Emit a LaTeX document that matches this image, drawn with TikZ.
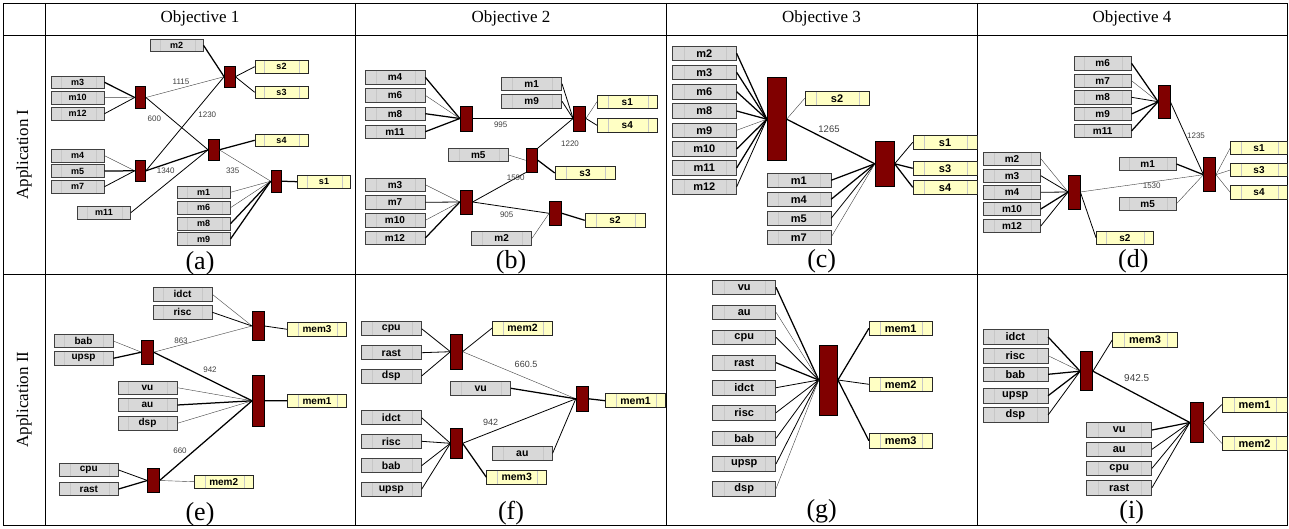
\documentclass[tikz,border=0pt]{standalone}
\usepackage{fontspec}
\setmainfont{Liberation Serif}
\newfontfamily\boxfont{Liberation Sans}
\usepackage{tikz}
\usetikzlibrary{calc}

\definecolor{barred}{RGB}{128,0,0}
\definecolor{sfill}{RGB}{255,255,196}
\definecolor{mfill}{RGB}{216,216,216}

\tikzset{
  box/.style={draw=black!75, line width=0.6pt, inner sep=0pt,
    minimum width=56pt, minimum height=13pt,
    font=\boxfont\bfseries\fontsize{10}{10}\selectfont,
    path picture={\draw[black!22, line width=0.4pt]
      ($(path picture bounding box.south west)!0.18!(path picture bounding box.south east)$) --
      ($(path picture bounding box.north west)!0.18!(path picture bounding box.north east)$)
      ($(path picture bounding box.south west)!0.84!(path picture bounding box.south east)$) --
      ($(path picture bounding box.north west)!0.84!(path picture bounding box.north east)$);}},
  mbox/.style={box, fill=mfill},
  sbox/.style={box, fill=sfill, draw=black!85},
  boxsz/.style n args={3}{
    mbox/.append style={minimum width=#1, minimum height=#2, font=\boxfont\bfseries\fontsize{#3}{#3}\selectfont},
    sbox/.append style={minimum width=#1, minimum height=#2, font=\boxfont\bfseries\fontsize{#3}{#3}\selectfont}},
  bar/.style 2 args={draw=black, fill=barred, line width=0.5pt, inner sep=0pt,
    minimum width=#1pt, minimum height=#2pt},
  wlite/.style={line width=0.4pt, black!75},
  wnorm/.style={line width=0.8pt, black},
  wbold/.style={line width=1.25pt, black},
  elab/.style={font=\boxfont\fontsize{8}{8}\selectfont, text=black!75, inner sep=0pt},
  plab/.style={font=\fontsize{26}{26}\selectfont, inner sep=0pt},
  hd/.style={font=\fontsize{17}{17}\selectfont, inner sep=0pt},
  grid/.style={line width=0.9pt, black}
}

\begin{document}
\begin{tikzpicture}[x=1pt, y=-1pt]
\useasboundingbox (0,0) rectangle (1289,529);

% table frame
\draw[grid] (3,3) rectangle (1287,525);
\draw[grid] (3,35) -- (1287,35);
\draw[grid] (3,274) -- (1287,274);
\draw[grid] (45,3) -- (45,525);
\draw[grid] (355,3) -- (355,525);
\draw[grid] (666,3) -- (666,525);
\draw[grid] (977,3) -- (977,525);

\node[hd] (hd1) at (200,18) {Objective 1};
\node[hd] (hd2) at (511,18) {Objective 2};
\node[hd] (hd3) at (821.5,18) {Objective 3};
\node[hd] (hd4) at (1132,18) {Objective 4};
\node[hd, rotate=90] (app1) at (24,154.5) {Application I};
\node[hd, rotate=90] (app2) at (24,399.5) {Application II};

% (a)
\begin{scope}[boxsz={53pt}{12.5pt}{9}]
\node[mbox] (a-m2) at (176.7,45.3) {m2};
\node[sbox] (a-s2) at (281.5,66.7) {s2};
\node[sbox] (a-s3) at (281.5,92.3) {s3};
\node[mbox] (a-m3) at (77.7,82.3) {m3};
\node[mbox] (a-m10) at (77.7,97.7) {m10};
\node[mbox] (a-m12) at (77.7,113.7) {m12};
\node[bar={10.7}{21.7}] (a-b1) at (140.3,97.5) {};
\node[bar={10.7}{21.7}] (a-b2) at (229.7,76.7) {};
\node[sbox] (a-s4) at (281.5,140.3) {s4};
\node[bar={10.7}{21.7}] (a-b3) at (213.7,149.8) {};
\node[mbox] (a-m4) at (77.7,155.7) {m4};
\node[mbox] (a-m5) at (77.7,171) {m5};
\node[mbox] (a-m7) at (77.7,186.7) {m7};
\node[bar={10.7}{21.7}] (a-b4) at (140.3,170.8) {};
\node[bar={10.7}{21.7}] (a-b5) at (276.3,181.2) {};
\node[sbox] (a-s1) at (324,181.7) {s1};
\node[mbox] (a-m11) at (104,212.7) {m11};
\node[mbox] (a-m1) at (203.7,192.3) {m1};
\node[mbox] (a-m6) at (203.7,207.7) {m6};
\node[mbox] (a-m8) at (203.7,223.7) {m8};
\node[mbox] (a-m9) at (203.7,239) {m9};

\draw[wbold] (a-m2.east) -- (a-b2.west);
\draw[wnorm] (a-b2.east) -- (a-s2.west);
\draw[wnorm] (a-b2.east) -- (a-s3.west);
\draw[wbold] (a-m3.east) -- (a-b1.west);
\draw[wlite] (a-m10.east) -- (a-b1.west);
\draw[wnorm] (a-m12.east) -- (a-b1.west);
\draw[wlite] (a-b1.east) -- (a-b2.west);
\draw[wnorm] (a-b1.east) -- (a-b3.west);
\draw[wnorm] (a-b4.east) -- (a-b2.west);
\draw[wbold] (a-b4.east) -- (a-b3.west);
\draw[wlite] (a-m4.east) -- (a-b4.west);
\draw[wbold] (a-m5.east) -- (a-b4.west);
\draw[wnorm] (a-m7.east) -- (a-b4.west);
\draw[wnorm] (a-m11.east) -- (a-b3.west);
\draw[wbold] (a-b3.east) -- (a-s4.west);
\draw[wlite] (a-b3.east) -- (a-b5.west);
\draw[wbold] (a-b5.east) -- (a-s1.west);
\draw[wlite] (a-m1.east) -- (a-b5.west);
\draw[wlite] (a-m6.east) -- (a-b5.west);
\draw[wbold] (a-m8.east) -- (a-b5.west);
\draw[wbold] (a-m9.east) -- (a-b5.west);

\node[elab] (a-l1) at (181,82) {1115};
\node[elab] (a-l2) at (154.3,119) {600};
\node[elab] (a-l3) at (207.3,114.3) {1230};
\node[elab] (a-l4) at (165.7,171) {1340};
\node[elab] (a-l5) at (232.7,170.7) {335};
\node[plab] (a-cap) at (200,263) {(a)};
\end{scope}

% (b)
\begin{scope}[boxsz={60pt}{13.5pt}{10}]
\node[mbox] (b-m4) at (395,77.3) {m4};
\node[mbox] (b-m6) at (395,95.3) {m6};
\node[mbox] (b-m8) at (395,113.7) {m8};
\node[mbox] (b-m11) at (395,131.7) {m11};
\node[bar={12.3}{25}] (b-b1) at (466.2,118.5) {};
\node[mbox] (b-m1) at (531.7,83.7) {m1};
\node[mbox] (b-m9) at (531.7,101.3) {m9};
\node[bar={12.3}{25}] (b-b2) at (579.5,118.5) {};
\node[sbox] (b-s1) at (627.3,101.7) {s1};
\node[sbox] (b-s4) at (627.3,125.3) {s4};
\node[mbox] (b-m5) at (478.3,155) {m5};
\node[bar={11.7}{24}] (b-b3) at (531.8,160.3) {};
\node[sbox] (b-s3) at (585,173) {s3};
\node[mbox] (b-m3) at (395,184.7) {m3};
\node[mbox] (b-m7) at (395,202.3) {m7};
\node[mbox] (b-m10) at (395,220.3) {m10};
\node[mbox] (b-m12) at (395,238) {m12};
\node[bar={12.3}{24}] (b-b4) at (466.2,202) {};
\node[bar={12.3}{24.7}] (b-b5) at (555.5,213.3) {};
\node[sbox] (b-s2) at (615,220.3) {s2};
\node[mbox] (b-m2) at (501.7,238.3) {m2};

\draw[wbold] (b-m4.east) -- (b-b1.west);
\draw[wlite] (b-m6.east) -- (b-b1.west);
\draw[wbold] (b-m8.east) -- (b-b1.west);
\draw[wbold] (b-m11.east) -- (b-b1.west);
\draw[wbold] (b-b1.east) -- (b-b2.west);
\draw[wnorm] (b-m1.east) -- (b-b2.west);
\draw[wnorm] (b-m9.east) -- (b-b2.west);
\draw[wlite] (b-b2.east) -- (b-s1.west);
\draw[wnorm] (b-b2.east) -- (b-s4.west);
\draw[wnorm] (b-b3.north east) -- (b-b2.west);
\draw[wlite] (b-m5.east) -- (b-b3.west);
\draw[wbold] (b-b3.east) -- (b-s3.west);
\draw[wnorm] (b-b4.east) -- (b-b3.south west);
\draw[wlite] (b-m3.east) -- (b-b4.west);
\draw[wnorm] (b-m7.east) -- (b-b4.west);
\draw[wlite] (b-m10.east) -- (b-b4.west);
\draw[wbold] (b-m12.east) -- (b-b4.west);
\draw[wnorm] (b-b4.east) -- (b-b5.west);
\draw[wbold] (b-b5.east) -- (b-s2.west);
\draw[wlite] (b-m2.east) -- (b-b5.west);

\node[elab] (b-l1) at (500.7,125) {995};
\node[elab] (b-l2) at (570,143.3) {1220};
\node[elab] (b-l3) at (515.7,177.7) {1590};
\node[elab] (b-l4) at (506.7,215) {905};
\node[plab] (b-cap) at (511,262.7) {(b)};
\end{scope}

% (c)
\begin{scope}[boxsz={64pt}{14.5pt}{11}, elab/.append style={font=\boxfont\fontsize{9.5}{9.5}\selectfont}]
\node[mbox] (c-m2) at (704.3,53.3) {m2};
\node[mbox] (c-m3) at (704.3,72.3) {m3};
\node[mbox] (c-m6) at (704.3,91.7) {m6};
\node[mbox] (c-m8) at (704.3,111) {m8};
\node[mbox] (c-m9) at (704.3,130.3) {m9};
\node[mbox] (c-m10) at (704.3,149) {m10};
\node[mbox] (c-m11) at (704.3,168) {m11};
\node[mbox] (c-m12) at (704.3,187) {m12};
\node[bar={19.3}{83}] (c-b1) at (776.7,119.2) {};
\node[sbox] (c-s2) at (837,98.3) {s2};
\node[bar={19.3}{45.7}] (c-b2) at (884.7,163.8) {};
\node[sbox] (c-s1) at (945,142.3) {s1};
\node[sbox] (c-s3) at (945,168.3) {s3};
\node[sbox] (c-s4) at (945,187.3) {s4};
\node[mbox] (c-m1) at (798.8,180.3) {m1};
\node[mbox] (c-m4) at (798.8,199.3) {m4};
\node[mbox] (c-m5) at (798.8,218.3) {m5};
\node[mbox] (c-m7) at (798.8,237.3) {m7};

\draw[wbold] (c-m2.east) -- (c-b1.west);
\draw[wbold] (c-m3.east) -- (c-b1.west);
\draw[wbold] (c-m6.east) -- (c-b1.west);
\draw[wbold] (c-m8.east) -- (c-b1.west);
\draw[wlite] (c-m9.east) -- (c-b1.west);
\draw[wbold] (c-m10.east) -- (c-b1.west);
\draw[wbold] (c-m11.east) -- (c-b1.west);
\draw[wnorm] (c-m12.east) -- (c-b1.west);
\draw[wlite] (c-b1.east) -- (c-s2.west);
\draw[wbold] (c-b1.east) -- (c-b2.west);
\draw[wbold] (c-m1.east) -- (c-b2.west);
\draw[wbold] (c-m4.east) -- (c-b2.west);
\draw[wnorm] (c-m5.east) -- (c-b2.west);
\draw[wlite] (c-m7.east) -- (c-b2.west);
\draw[wnorm] (c-b2.east) -- (c-s1.west);
\draw[wbold] (c-b2.east) -- (c-s3.west);
\draw[wbold] (c-b2.east) -- (c-s4.west);

\node[elab] (c-l1) at (829,129.3) {1265};
\node[plab] (c-cap) at (821.7,261.7) {(c)};
\end{scope}

% (d)
\begin{scope}[boxsz={57pt}{13.5pt}{10}]
\node[mbox] (d-m6) at (1102.7,63.3) {m6};
\node[mbox] (d-m7) at (1102.7,80.7) {m7};
\node[mbox] (d-m8) at (1102.7,97.3) {m8};
\node[mbox] (d-m9) at (1102.7,114) {m9};
\node[mbox] (d-m11) at (1102.7,131) {m11};
\node[bar={11.7}{33.3}] (d-b1) at (1164.2,101.7) {};
\node[sbox] (d-s1) at (1259,148) {s1};
\node[sbox] (d-s3) at (1259,170) {s3};
\node[sbox] (d-s4) at (1259,192.3) {s4};
\node[mbox] (d-m2) at (1012,158.7) {m2};
\node[mbox] (d-m3) at (1012,175.7) {m3};
\node[mbox] (d-m4) at (1012,192.3) {m4};
\node[mbox] (d-m10) at (1012,209) {m10};
\node[mbox] (d-m12) at (1012,226) {m12};
\node[bar={11.7}{34}] (d-b2) at (1074.2,192) {};
\node[mbox] (d-m1) at (1147.7,164) {m1};
\node[mbox] (d-m5) at (1147.7,203.7) {m5};
\node[bar={12}{34}] (d-b3) at (1209.7,174.7) {};
\node[sbox] (d-s2) at (1124.8,237.7) {s2};

\draw[wbold] (d-m6.east) -- (d-b1.west);
\draw[wlite] (d-m7.east) -- (d-b1.west);
\draw[wnorm] (d-m8.east) -- (d-b1.west);
\draw[wbold] (d-m9.east) -- (d-b1.west);
\draw[wbold] (d-m11.east) -- (d-b1.west);
\draw[wnorm] (d-b1.east) -- (d-b3.west);
\draw[wlite] (d-m2.east) -- (d-b2.west);
\draw[wnorm] (d-m3.east) -- (d-b2.west);
\draw[wnorm] (d-m4.east) -- (d-b2.west);
\draw[wbold] (d-m10.east) -- (d-b2.west);
\draw[wnorm] (d-m12.east) -- (d-b2.west);
\draw[wlite] (d-b2.east) -- (d-b3.west);
\draw[wnorm] (d-b2.east) -- (d-s2.west);
\draw[wbold] (d-m1.east) -- (d-b3.west);
\draw[wlite] (d-m5.east) -- (d-b3.west);
\draw[wlite] (d-b3.east) -- (d-s1.west);
\draw[wlite] (d-b3.east) -- (d-s3.west);
\draw[wlite] (d-b3.east) -- (d-s4.west);

\node[elab] (d-l1) at (1196,135.7) {1235};
\node[elab] (d-l2) at (1151.7,185.7) {1530};
\node[plab] (d-cap) at (1133.3,261) {(d)};
\end{scope}

% (e)
\begin{scope}[boxsz={59pt}{13.3pt}{10}]
\node[mbox] (e-idct) at (182.5,294.3) {idct};
\node[mbox] (e-risc) at (182.5,312.3) {risc};
\node[bar={12}{28.7}] (e-b1) at (258.3,326) {};
\node[sbox] (e-mem3) at (317,329.3) {mem3};
\node[mbox] (e-bab) at (83.5,341) {bab};
\node[mbox] (e-upsp) at (83.5,358.3) {upsp};
\node[bar={11.7}{24.3}] (e-b2) at (147.5,352.2) {};
\node[bar={12}{51.7}] (e-b3) at (258.3,400.8) {};
\node[sbox] (e-mem1) at (317,400.7) {mem1};
\node[mbox] (e-vu) at (147.5,387.7) {vu};
\node[mbox] (e-au) at (147.5,405) {au};
\node[mbox] (e-dsp) at (147.5,423.3) {dsp};
\node[mbox] (e-cpu) at (88.8,470) {cpu};
\node[mbox] (e-rast) at (88.8,489) {rast};
\node[bar={11.7}{24.3}] (e-b4) at (153.5,480.5) {};
\node[sbox] (e-mem2) at (223.7,481.7) {mem2};

\draw[wlite] (e-idct.east) -- (e-b1.west);
\draw[wnorm] (e-risc.east) -- (e-b1.west);
\draw[wnorm] (e-b1.east) -- (e-mem3.west);
\draw[wlite] (e-bab.east) -- (e-b2.west);
\draw[wbold] (e-upsp.east) -- (e-b2.west);
\draw[wlite] (e-b2.east) -- (e-b1.west);
\draw[wbold] (e-b2.east) -- (e-b3.west);
\draw[wlite] (e-vu.east) -- (e-b3.west);
\draw[wbold] (e-au.east) -- (e-b3.west);
\draw[wlite] (e-dsp.east) -- (e-b3.west);
\draw[wbold] (e-b3.east) -- (e-mem1.west);
\draw[wnorm] (e-cpu.east) -- (e-b4.west);
\draw[wbold] (e-rast.east) -- (e-b4.west);
\draw[wbold] (e-b4.east) -- (e-b3.west);
\draw[wlite] (e-b4.east) -- (e-mem2.west);

\node[elab] (e-l1) at (181,340.7) {863};
\node[elab] (e-l2) at (210,370) {942};
\node[elab] (e-l3) at (180,451) {660};
\node[plab] (e-cap) at (200,514) {(e)};
\end{scope}

% (f)
\begin{scope}[boxsz={60pt}{14pt}{10.5}, elab/.append style={font=\boxfont\fontsize{9}{9}\selectfont}]
\node[mbox] (f-cpu) at (391.3,328.7) {cpu};
\node[mbox] (f-rast) at (391.3,352.7) {rast};
\node[mbox] (f-dsp) at (391.3,376) {dsp};
\node[bar={11.7}{35.3}] (f-b1) at (456.5,351.7) {};
\node[sbox] (f-mem2) at (522.5,328) {mem2};
\node[mbox] (f-vu) at (480.7,388.3) {vu};
\node[bar={12.3}{24.3}] (f-b2) at (582.2,398.8) {};
\node[sbox] (f-mem1) at (635.5,400.7) {mem1};
\node[mbox] (f-idct) at (391.3,417.7) {idct};
\node[mbox] (f-risc) at (391.3,441.3) {risc};
\node[mbox] (f-bab) at (391.3,465.7) {bab};
\node[mbox] (f-upsp) at (391.3,489.3) {upsp};
\node[bar={11.7}{30}] (f-b3) at (456.5,443.3) {};
\node[mbox] (f-au) at (522.3,453.3) {au};
\node[sbox] (f-mem3) at (516.7,477.3) {mem3};

\draw[wnorm] (f-cpu.east) -- (f-b1.west);
\draw[wnorm] (f-rast.east) -- (f-b1.west);
\draw[wnorm] (f-dsp.east) -- (f-b1.west);
\draw[wnorm] (f-b1.east) -- (f-mem2.west);
\draw[wlite] (f-b1.east) -- (f-b2.west);
\draw[wbold] (f-vu.east) -- (f-b2.west);
\draw[wbold] (f-b2.east) -- (f-mem1.west);
\draw[wnorm] (f-idct.east) -- (f-b3.west);
\draw[wnorm] (f-risc.east) -- (f-b3.west);
\draw[wnorm] (f-bab.east) -- (f-b3.west);
\draw[wnorm] (f-upsp.east) -- (f-b3.west);
\draw[wnorm] (f-b3.east) -- (f-b2.west);
\draw[wnorm] (f-au.east) -- (f-b2.west);
\draw[wbold] (f-b3.east) -- (f-mem3.west);

\node[elab] (f-l1) at (526,364.3) {660.5};
\node[elab] (f-l2) at (490.7,422.3) {942};
\node[plab] (f-cap) at (511,513) {(f)};
\end{scope}

% (g)
\begin{scope}[boxsz={63pt}{14.5pt}{11}]
\node[mbox] (g-vu) at (744.2,287.3) {vu};
\node[mbox] (g-au) at (744.2,312.3) {au};
\node[mbox] (g-cpu) at (744.2,337.3) {cpu};
\node[mbox] (g-rast) at (744.2,362.7) {rast};
\node[mbox] (g-idct) at (744.2,387.7) {idct};
\node[mbox] (g-risc) at (744.2,412.7) {risc};
\node[mbox] (g-bab) at (744.2,438.3) {bab};
\node[mbox] (g-upsp) at (744.2,464) {upsp};
\node[mbox] (g-dsp) at (744.2,488.7) {dsp};
\node[bar={18.7}{70}] (g-b1) at (828.3,380) {};
\node[sbox] (g-mem1) at (900.7,328.3) {mem1};
\node[sbox] (g-mem2) at (900.7,384.3) {mem2};
\node[sbox] (g-mem3) at (900.7,440.7) {mem3};

\draw[wbold] (g-vu.east) -- (g-b1.west);
\draw[wlite] (g-au.east) -- (g-b1.west);
\draw[wnorm] (g-cpu.east) -- (g-b1.west);
\draw[wbold] (g-rast.east) -- (g-b1.west);
\draw[wnorm] (g-idct.east) -- (g-b1.west);
\draw[wnorm] (g-risc.east) -- (g-b1.west);
\draw[wnorm] (g-bab.east) -- (g-b1.west);
\draw[wnorm] (g-upsp.east) -- (g-b1.west);
\draw[wlite] (g-dsp.east) -- (g-b1.west);
\draw[wbold] (g-b1.east) -- (g-mem1.west);
\draw[wnorm] (g-b1.east) -- (g-mem2.west);
\draw[wbold] (g-b1.east) -- (g-mem3.west);

\node[plab] (g-cap) at (821.7,511.5) {(g)};
\end{scope}

% (i)
\begin{scope}[boxsz={65pt}{14.5pt}{11}, elab/.append style={font=\boxfont\fontsize{10}{10}\selectfont}]
\node[mbox] (i-idct) at (1015.3,337) {idct};
\node[mbox] (i-risc) at (1015.3,355.7) {risc};
\node[mbox] (i-bab) at (1015.3,374.3) {bab};
\node[mbox] (i-upsp) at (1015.3,395.7) {upsp};
\node[mbox] (i-dsp) at (1015.3,415) {dsp};
\node[bar={12.3}{39}] (i-b1) at (1086.5,371.2) {};
\node[sbox] (i-mem3) at (1145,340) {mem3};
\node[bar={13.3}{39.7}] (i-b2) at (1196.7,422.5) {};
\node[sbox] (i-mem1) at (1254.5,404.7) {mem1};
\node[sbox] (i-mem2) at (1254.5,443.3) {mem2};
\node[mbox] (i-vu) at (1119.2,430) {vu};
\node[mbox] (i-au) at (1119.2,449.3) {au};
\node[mbox] (i-cpu) at (1119.2,468.3) {cpu};
\node[mbox] (i-rast) at (1119.2,487.7) {rast};

\draw[wbold] (i-idct.east) -- (i-b1.west);
\draw[wlite] (i-risc.east) -- (i-b1.west);
\draw[wbold] (i-bab.east) -- (i-b1.west);
\draw[wbold] (i-upsp.east) -- (i-b1.west);
\draw[wnorm] (i-dsp.east) -- (i-b1.west);
\draw[wnorm] (i-b1.east) -- (i-mem3.west);
\draw[wbold] (i-b1.east) -- (i-b2.west);
\draw[wbold] (i-vu.east) -- (i-b2.west);
\draw[wnorm] (i-au.east) -- (i-b2.west);
\draw[wnorm] (i-cpu.east) -- (i-b2.west);
\draw[wnorm] (i-rast.east) -- (i-b2.west);
\draw[wnorm] (i-b2.east) -- (i-mem1.west);
\draw[wlite] (i-b2.east) -- (i-mem2.west);

\node[elab] (i-l1) at (1136.7,377.7) {942.5};
\node[plab] (i-cap) at (1131.7,512) {(i)};
\end{scope}
\end{tikzpicture}
\end{document}
